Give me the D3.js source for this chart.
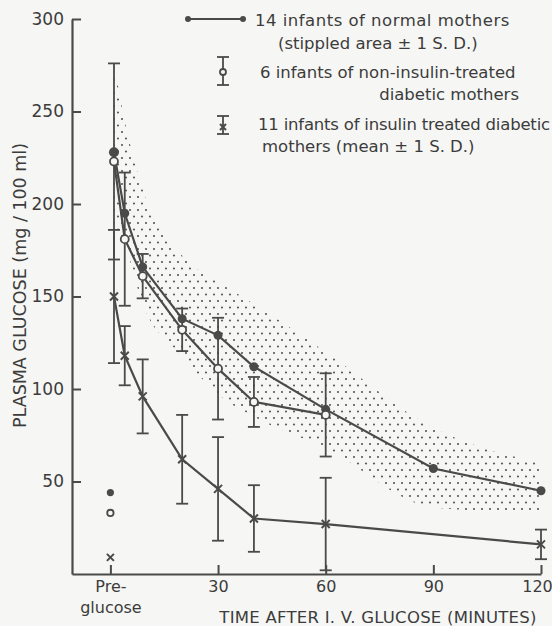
<!DOCTYPE html>
<html><head><meta charset="utf-8">
<script src="https://cdn.jsdelivr.net/npm/d3@7"></script>
<style>body{margin:0;background:#f6f6f4}svg{display:block}</style>
</head><body><svg id="c" width="552" height="626"></svg>
<script>
// ---- data ----
const times = [1, 4, 9, 20, 30, 40, 60, 90, 120];
const normalMean  = [228, 195, 166, 138, 129, 112, 89, 57, 45];
const normalUpper = [276, 245, 208, 172, 158, 146, 120, 79, 60];
const normalLower = [190, 178, 146, 118, 97, 85, 68, 36, 33];
const nonInsTimes = [1, 4, 9, 20, 30, 40, 60];
const nonInsMean  = [223, 181, 161, 132, 111, 93, 86];
const nonInsSD    = [53, 36, 12, 11.5, 27.5, 13.5, 22.5];
const insTimes = [1, 4, 9, 20, 30, 40, 60, 120];
const insMean  = [150, 118, 96, 62, 46, 30, 27, 16];
const insSD    = [36, 16, 20, 24, 28, 18, 25, 8];
const preTime = 0;
const preNormal = 44, preNonIns = 33, preIns = 9;
const xTickValues = [0, 30, 60, 90, 120];
const xTickLabels = ["Pre-", "30", "60", "90", "120"];
const yTickValues = [50, 100, 150, 200, 250, 300];
const legendTexts = [
  "14 infants of normal mothers",
  "(stippled area \u00b1 1 S. D.)",
  "6 infants of non-insulin-treated",
  "diabetic mothers",
  "11 infants of insulin treated diabetic",
  "mothers (mean \u00b1 1 S. D.)"
];
const yTitle = "PLASMA  GLUCOSE  (mg / 100 ml)";
const xTitle = "TIME  AFTER  I. V.  GLUCOSE  (MINUTES)";

// ---- drawing ----
const ink = "#4a4a4a";
const FONT = "DejaVu Sans, sans-serif";
const svg = d3.select("#c");
svg.append("rect").attr("width", 552).attr("height", 626).attr("fill", "#f6f6f4");

const x = d3.scaleLinear().domain([-10.7, 120]).range([72, 541]);
const y = d3.scaleLinear().domain([0, 300]).range([574, 19]);

// stipple pattern
const defs = svg.append("defs");
const pat = defs.append("pattern").attr("id", "stip").attr("patternUnits", "userSpaceOnUse")
  .attr("width", 8).attr("height", 13);
pat.append("circle").attr("cx", 2).attr("cy", 2).attr("r", 1.05).attr("fill", "#555");
pat.append("circle").attr("cx", 6).attr("cy", 8.5).attr("r", 1.05).attr("fill", "#555");

// stippled band
const band = times.map((t, i) => ({t, lo: normalLower[i], hi: normalUpper[i]}));
svg.append("path").datum(band)
  .attr("d", d3.area().x(d => x(d.t)).y0(d => y(d.lo)).y1(d => y(d.hi)).curve(d3.curveMonotoneX))
  .attr("fill", "url(#stip)");

// axes
const yAxis = d3.axisLeft(y).tickValues(yTickValues).tickSizeInner(-9).tickSizeOuter(0).tickPadding(8);
const gy = svg.append("g").attr("transform", `translate(${x(-10.7)},0)`).call(yAxis);
const xAxis = d3.axisBottom(x).tickValues(xTickValues).tickSizeInner(-9).tickSizeOuter(0).tickPadding(7)
  .tickFormat((d, i) => xTickLabels[i]);
const gx = svg.append("g").attr("transform", `translate(0,${y(0)})`).call(xAxis);
[gx, gy].forEach(g => {
  g.select(".domain").attr("stroke", ink).attr("stroke-width", 2.2);
  g.selectAll(".tick line").attr("stroke", ink).attr("stroke-width", 2);
  g.selectAll(".tick text").attr("fill", "#3c3c3c").attr("font-family", FONT).attr("font-size", 17);
});
gx.selectAll(".tick text").attr("font-size", 16);
gx.selectAll(".tick").filter(d => d === 120).select("text").attr("x", -4);
gx.selectAll(".tick").filter(d => d === 0).select("text")
  .call(t => t.append("tspan").attr("x", 0).attr("dy", "1.3em").text("glucose"));

svg.append("text").attr("transform", `translate(26,${(y(0)+y(300))/2 - 11}) rotate(-90)`)
  .attr("text-anchor", "middle").attr("font-family", FONT).attr("font-size", 17.5)
  .attr("fill", "#3c3c3c").text(yTitle);
svg.append("text").attr("x", 378).attr("y", 623).attr("text-anchor", "middle")
  .attr("font-family", FONT).attr("font-size", 16.5).attr("letter-spacing", 0.25)
  .attr("fill", "#3c3c3c").text(xTitle);

// lines
const line = d3.line().x(d => x(d[0])).y(d => y(d[1]));
const lineStyle = s => s.attr("fill", "none").attr("stroke", ink).attr("stroke-width", 2.2);
svg.append("path").datum(times.map((t, i) => [t, normalMean[i]])).attr("d", line).call(lineStyle);
svg.append("path").datum(nonInsTimes.map((t, i) => [t, nonInsMean[i]])).attr("d", line).call(lineStyle);
svg.append("path").datum(insTimes.map((t, i) => [t, insMean[i]])).attr("d", line).call(lineStyle);

// error bars
function errBars(ts, m, sd) {
  const g = svg.append("g").attr("stroke", ink).attr("stroke-width", 1.8);
  ts.forEach((t, i) => {
    const cx = x(t), top = y(m[i] + sd[i]), bot = y(Math.max(0, m[i] - sd[i]));
    g.append("line").attr("x1", cx).attr("x2", cx).attr("y1", top).attr("y2", bot);
    g.append("line").attr("x1", cx - 6).attr("x2", cx + 6).attr("y1", top).attr("y2", top);
    if (m[i] - sd[i] > 0) g.append("line").attr("x1", cx - 6).attr("x2", cx + 6).attr("y1", bot).attr("y2", bot);
  });
}
errBars(nonInsTimes, nonInsMean, nonInsSD);
errBars(insTimes, insMean, insSD);

// markers
function filled(cx, cy, r) { svg.append("circle").attr("cx", cx).attr("cy", cy).attr("r", r).attr("fill", ink); }
function open(cx, cy, r) { svg.append("circle").attr("cx", cx).attr("cy", cy).attr("r", r).attr("fill", "#f6f6f4").attr("stroke", ink).attr("stroke-width", 1.8); }
function cross(cx, cy, s) {
  svg.append("path").attr("d", `M${cx-s},${cy-s}L${cx+s},${cy+s}M${cx+s},${cy-s}L${cx-s},${cy+s}`)
    .attr("stroke", ink).attr("stroke-width", 2).attr("fill", "none");
}
times.forEach((t, i) => filled(x(t), y(normalMean[i]), i === 0 ? 5 : 4.5));
nonInsTimes.forEach((t, i) => open(x(t), y(nonInsMean[i]), 4));
insTimes.forEach((t, i) => cross(x(t), y(insMean[i]), 4));
filled(x(preTime), y(preNormal), 3.6);
open(x(preTime), y(preNonIns), 3.2);
cross(x(preTime), y(preIns), 3.5);

// legend
const lg = svg.append("g").attr("font-family", FONT).attr("font-size", 16.5).attr("fill", "#3c3c3c");
svg.append("line").attr("x1", 188).attr("x2", 243).attr("y1", 19).attr("y2", 19).attr("stroke", ink).attr("stroke-width", 2.2);
filled(188, 19, 3); filled(243, 19, 3);
lg.append("text").attr("x", 255).attr("y", 26).attr("letter-spacing", 0.5).text(legendTexts[0]);
lg.append("text").attr("x", 278).attr("y", 49).text(legendTexts[1]);
lg.append("text").attr("x", 260).attr("y", 78).text(legendTexts[2]);
lg.append("text").attr("x", 519).attr("y", 100).attr("text-anchor", "end").text(legendTexts[3]);
lg.append("text").attr("x", 258).attr("y", 130).attr("letter-spacing", -0.2).text(legendTexts[4]);
lg.append("text").attr("x", 262).attr("y", 152).text(legendTexts[5]);
const lb = svg.append("g").attr("stroke", ink).attr("stroke-width", 1.8);
[[57, 85], [116, 134]].forEach(([a, b]) => {
  lb.append("line").attr("x1", 223).attr("x2", 223).attr("y1", a).attr("y2", b);
  lb.append("line").attr("x1", 217).attr("x2", 229).attr("y1", a).attr("y2", a);
  lb.append("line").attr("x1", 217).attr("x2", 229).attr("y1", b).attr("y2", b);
});
open(223, 72, 3);
cross(223, 127, 3);
</script></body></html>
